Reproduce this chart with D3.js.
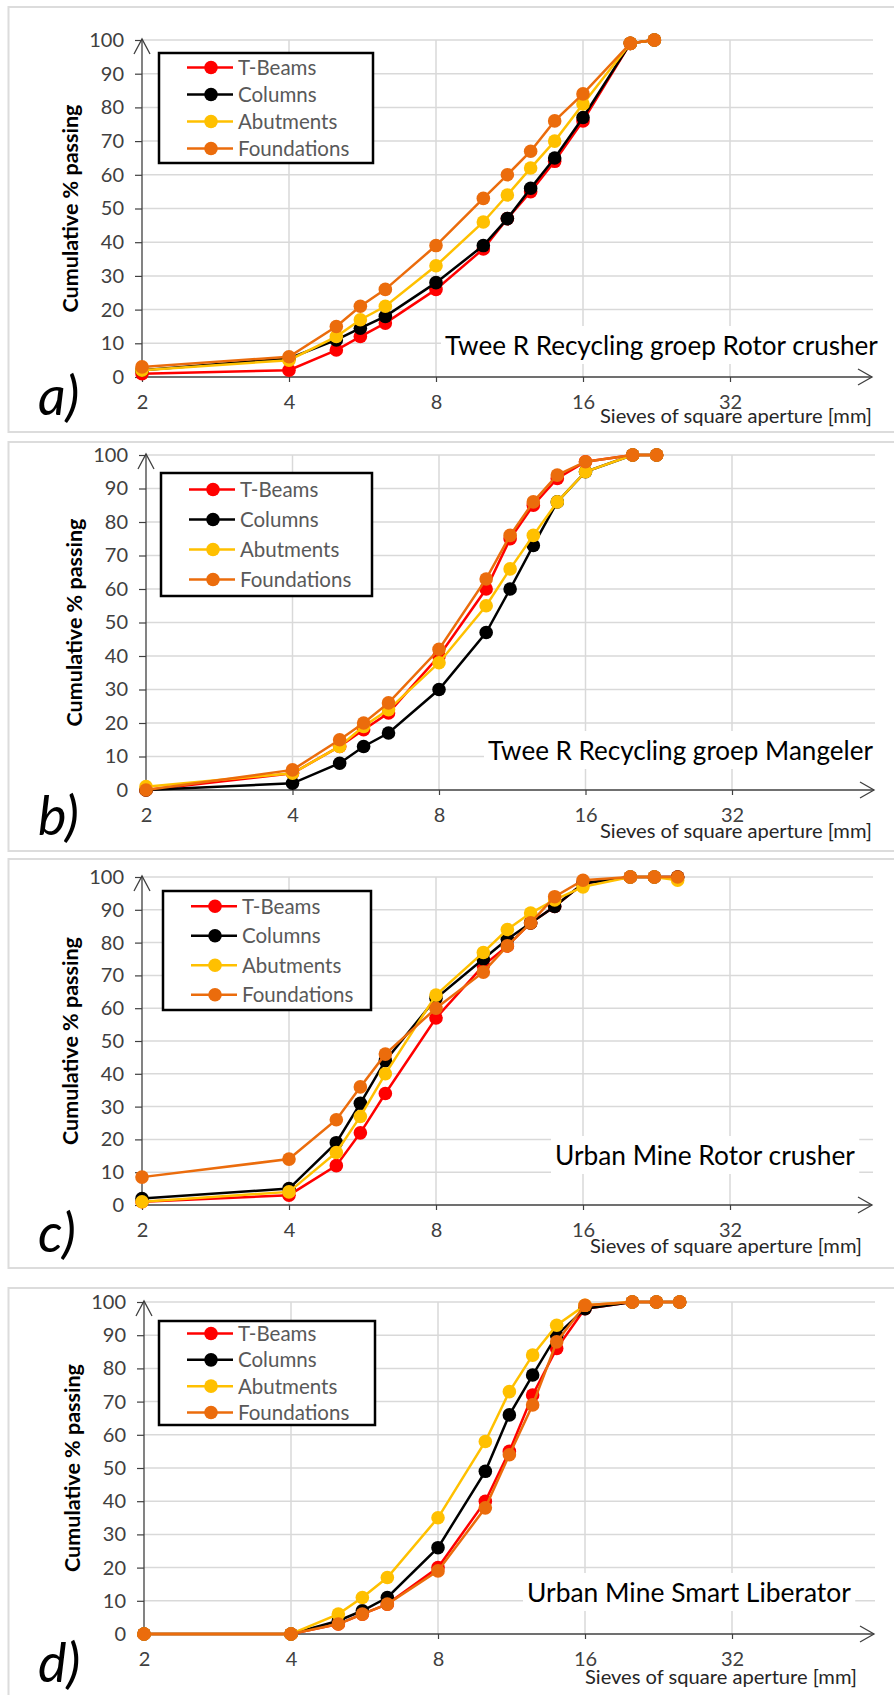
<!DOCTYPE html>
<html>
<head>
<meta charset="utf-8">
<script src="https://cdn.jsdelivr.net/npm/d3@7"></script>
<style>
  html, body { margin: 0; padding: 0; background: #fff; }
  svg { display: block; }
  text { font-family: Lato, "Open Sans", sans-serif; }
</style>
</head>
<body>
<div id="chart"></div>
<script>

// sieve sizes in mm (x values)
const sieves = [2, 4, 5, 5.6, 6.3, 8, 10, 11.2, 12.5, 14, 16, 20, 22.4, 25];
const seriesNames = ["T-Beams", "Columns", "Abutments", "Foundations"];
const xTicks = [2, 4, 8, 16, 32];
const yTicks = [0, 10, 20, 30, 40, 50, 60, 70, 80, 90, 100];
const panelLetters = ["a)", "b)", "c)", "d)"];
const panelTitles = [
    "Twee R Recycling groep Rotor crusher",
    "Twee R Recycling groep Mangeler",
    "Urban Mine Rotor crusher",
    "Urban Mine Smart Liberator"
];
const yLabel = "Cumulative % passing";
const xLabel = "Sieves of square aperture [mm]";

// a) Twee R Recycling groep Rotor crusher
const aTBeams      = [1, 2, 8, 12, 16, 26, 38, 47, 55, 64, 76, 99, 100];
const aColumns     = [2, 5.5, 11, 14.5, 18, 28, 39, 47, 56, 65, 77, 99, 100];
const aAbutments   = [2, 5, 12, 17, 21, 33, 46, 54, 62, 70, 81, 99, 100];
const aFoundations = [3, 6, 15, 21, 26, 39, 53, 60, 67, 76, 84, 99, 100];

// b) Twee R Recycling groep Mangeler
const bTBeams      = [0, 5, 13, 18, 23, 40, 60, 75, 85, 93, 98, 100, 100];
const bColumns     = [0, 2, 8, 13, 17, 30, 47, 60, 73, 86, 95, 100, 100];
const bAbutments   = [1, 5, 13, 19, 24, 38, 55, 66, 76, 86, 95, 100, 100];
const bFoundations = [0, 6, 15, 20, 26, 42, 63, 76, 86, 94, 98, 100, 100];

// c) Urban Mine Rotor crusher
const cTBeams      = [1, 3, 12, 22, 34, 57, 73, 79, 86, 91, 98, 100, 100, 100];
const cColumns     = [2, 5, 19, 31, 44, 63, 75, 81, 86, 91, 98, 100, 100, 100];
const cAbutments   = [1, 4, 16, 27, 40, 64, 77, 84, 89, 93, 97, 100, 100, 99];
const cFoundations = [8.5, 14, 26, 36, 46, 60, 71, 79, 86, 94, 99, 100, 100, 100];

// d) Urban Mine Smart Liberator
const dTBeams      = [0, 0, 3, 6, 9, 20, 40, 55, 72, 86, 98, 100, 100, 100];
const dColumns     = [0, 0, 4, 7, 11, 26, 49, 66, 78, 90, 98, 100, 100, 100];
const dAbutments   = [0, 0, 6, 11, 17, 35, 58, 73, 84, 93, 99, 100, 100, 100];
const dFoundations = [0, 0, 3, 6, 9, 19, 38, 54, 69, 88, 99, 100, 100, 100];

const panelSeries = [
    [aTBeams, aColumns, aAbutments, aFoundations],
    [bTBeams, bColumns, bAbutments, bFoundations],
    [cTBeams, cColumns, cAbutments, cFoundations],
    [dTBeams, dColumns, dAbutments, dFoundations]
];

const seriesColors = ["#ff0000", "#000000", "#ffc000", "#eb6c0c"];

/*************************
***** PANEL LAYOUT *******
*************************/

const layout = [
    {x2: 142, oct: 147,   y100: 40,   y0: 377,  top: 7,    bottom: 432,  leg: {x: 159, y: 53,   w: 214, h: 110, dy: 27},   titleX: 445, titleR: 878, titleY: 355,  letterY: 415,  xlabR: 872, xlabY: 423},
    {x2: 146, oct: 146.5, y100: 455,  y0: 790,  top: 442,  bottom: 851,  leg: {x: 161, y: 473,  w: 211, h: 123, dy: 30},   titleX: 488, titleR: 873, titleY: 760,  letterY: 835,  xlabR: 872, xlabY: 838},
    {x2: 142, oct: 147,   y100: 877,  y0: 1205, top: 859,  bottom: 1268, leg: {x: 163, y: 891,  w: 208, h: 119, dy: 29.5}, titleX: 555, titleR: 855, titleY: 1165, letterY: 1252, xlabR: 862, xlabY: 1253},
    {x2: 144, oct: 147,   y100: 1302, y0: 1634, top: 1288, bottom: 1700, leg: {x: 159, y: 1321, w: 216, h: 104, dy: 26.3}, titleX: 527, titleR: 851, titleY: 1602, letterY: 1682, xlabR: 857, xlabY: 1684}
];

const width = 894, height = 1695;
const gridColor = "#d9d9d9";
const axisColor = "#404040";

const svg = d3.select("#chart")
    .append("svg")
    .attr("width", width)
    .attr("height", height);

svg.append("rect")
    .attr("width", width)
    .attr("height", height)
    .attr("fill", "#fff");

// scale a text's font size so it spans the given width
function fitText(sel, target) {
    const w = sel.node().getComputedTextLength();
    const fs = parseFloat(sel.attr("font-size"));
    sel.attr("font-size", (fs * target / w).toFixed(2));
}

layout.forEach((L, i) => {
    const g = svg.append("g").attr("class", "panel panel" + i);

    const x = d3.scaleLog().base(2)
        .domain([2, 32])
        .range([L.x2, L.x2 + 4 * L.oct]);
    const y = d3.scaleLinear()
        .domain([0, 100])
        .range([L.y0, L.y100]);
    const xEnd = L.x2 + 4 * L.oct + 142;

    // panel frame
    g.append("rect")
        .attr("x", 8.5)
        .attr("y", L.top)
        .attr("width", width)
        .attr("height", L.bottom - L.top)
        .attr("fill", "none")
        .attr("stroke", "#dcdcdc")
        .attr("stroke-width", 2);

    /**********************
    ***** GRIDLINES *******
    **********************/

    g.append("g")
        .selectAll("line")
        .data(yTicks.filter(d => d > 0))
        .join("line")
        .attr("x1", L.x2)
        .attr("x2", xEnd + 1)
        .attr("y1", d => y(d))
        .attr("y2", d => y(d))
        .attr("stroke", gridColor)
        .attr("stroke-width", 1.5);

    g.append("g")
        .selectAll("line")
        .data(xTicks.filter(d => d > 2))
        .join("line")
        .attr("x1", d => x(d))
        .attr("x2", d => x(d))
        .attr("y1", y(100))
        .attr("y2", y(0))
        .attr("stroke", gridColor)
        .attr("stroke-width", 1.5);

    // title with white box behind it
    const title = g.append("text")
        .attr("x", L.titleX)
        .attr("y", L.titleY)
        .attr("font-size", 26)
        .attr("fill", "#000")
        .text(panelTitles[i]);
    fitText(title, L.titleR - L.titleX);
    const tb = title.node().getBBox();
    g.insert("rect", "text")
        .attr("x", tb.x - 4)
        .attr("y", tb.y - 3)
        .attr("width", tb.width + 8)
        .attr("height", tb.height + 6)
        .attr("fill", "#fff");

    /*****************
    ***** AXES *******
    *****************/

    const yAxis = d3.axisLeft(y)
        .tickValues(yTicks)
        .tickSize(7)
        .tickPadding(11);
    const yG = g.append("g")
        .attr("transform", `translate(${L.x2},0)`)
        .call(yAxis);
    yG.select(".domain").remove();
    yG.selectAll(".tick line").attr("stroke", axisColor).attr("stroke-width", 1.2);
    yG.selectAll(".tick text")
        .attr("font-family", "Lato, sans-serif")
        .attr("font-size", 20)
        .attr("fill", axisColor);

    const xAxis = d3.axisBottom(x)
        .tickValues(xTicks)
        .tickFormat(d3.format("d"))
        .tickSize(5)
        .tickPadding(13);
    const xG = g.append("g")
        .attr("transform", `translate(0,${L.y0})`)
        .call(xAxis);
    xG.select(".domain").remove();
    xG.selectAll(".tick line").attr("stroke", axisColor).attr("stroke-width", 1.2);
    xG.selectAll(".tick text")
        .attr("font-family", "Lato, sans-serif")
        .attr("font-size", 20)
        .attr("fill", axisColor);

    // axis lines with open arrow heads
    g.append("line")
        .attr("x1", L.x2).attr("x2", xEnd)
        .attr("y1", L.y0).attr("y2", L.y0)
        .attr("stroke", axisColor).attr("stroke-width", 1.3);
    g.append("path")
        .attr("d", `M${xEnd - 14},${L.y0 - 8}L${xEnd},${L.y0}L${xEnd - 14},${L.y0 + 8}`)
        .attr("fill", "none").attr("stroke", axisColor).attr("stroke-width", 1.3);
    g.append("line")
        .attr("x1", L.x2).attr("x2", L.x2)
        .attr("y1", L.y0).attr("y2", L.y100 - 1)
        .attr("stroke", axisColor).attr("stroke-width", 1.3);
    g.append("path")
        .attr("d", `M${L.x2 - 8},${L.y100 + 14}L${L.x2},${L.y100 - 1}L${L.x2 + 8},${L.y100 + 14}`)
        .attr("fill", "none").attr("stroke", axisColor).attr("stroke-width", 1.3);

    // axis labels
    const yl = g.append("text")
        .attr("transform", `translate(${L.x2 - 64},${(L.y0 + L.y100) / 2}) rotate(-90)`)
        .attr("text-anchor", "middle")
        .attr("font-size", 18)
        .attr("font-weight", "bold")
        .attr("fill", "#000")
        .text(yLabel);
    fitText(yl, 208);

    const xl = g.append("text")
        .attr("x", L.xlabR)
        .attr("y", L.xlabY)
        .attr("text-anchor", "end")
        .attr("font-size", 18)
        .attr("fill", "#262626")
        .text(xLabel);
    fitText(xl, 272);

    // panel letter
    g.append("text")
        .attr("x", 38)
        .attr("y", L.letterY)
        .attr("font-family", "'Open Sans', sans-serif")
        .attr("font-style", "italic")
        .attr("font-size", 54)
        .attr("fill", "#000")
        .text(panelLetters[i]);

    /*****************
    ***** SERIES *****
    *****************/

    const line = d3.line()
        .x(d => x(d[0]))
        .y(d => y(d[1]));

    panelSeries[i].forEach((vals, s) => {
        const pts = vals.map((v, k) => [sieves[k], v]);
        const sg = g.append("g").attr("class", "series");
        sg.append("path")
            .datum(pts)
            .attr("d", line)
            .attr("fill", "none")
            .attr("stroke", seriesColors[s])
            .attr("stroke-width", 2.5);
        sg.selectAll("circle")
            .data(pts)
            .join("circle")
            .attr("cx", d => x(d[0]))
            .attr("cy", d => y(d[1]))
            .attr("r", 6.8)
            .attr("fill", seriesColors[s]);
    });

    /*****************
    ***** LEGEND *****
    *****************/

    const leg = g.append("g")
        .attr("transform", `translate(${L.leg.x},${L.leg.y})`);
    leg.append("rect")
        .attr("width", L.leg.w)
        .attr("height", L.leg.h)
        .attr("fill", "#fff")
        .attr("stroke", "#000")
        .attr("stroke-width", 2.5);
    const row0 = (L.leg.h - 3 * L.leg.dy) / 2;
    seriesNames.forEach((name, s) => {
        const ry = row0 + s * L.leg.dy;
        leg.append("line")
            .attr("x1", 28).attr("x2", 74)
            .attr("y1", ry).attr("y2", ry)
            .attr("stroke", seriesColors[s])
            .attr("stroke-width", 2.5);
        leg.append("circle")
            .attr("cx", 52).attr("cy", ry)
            .attr("r", 6.8)
            .attr("fill", seriesColors[s]);
        leg.append("text")
            .attr("x", 79)
            .attr("y", ry)
            .attr("dy", "0.36em")
            .attr("font-size", 20.5)
            .attr("fill", "#595959")
            .text(name);
    });
});

</script>
</body>
</html>
